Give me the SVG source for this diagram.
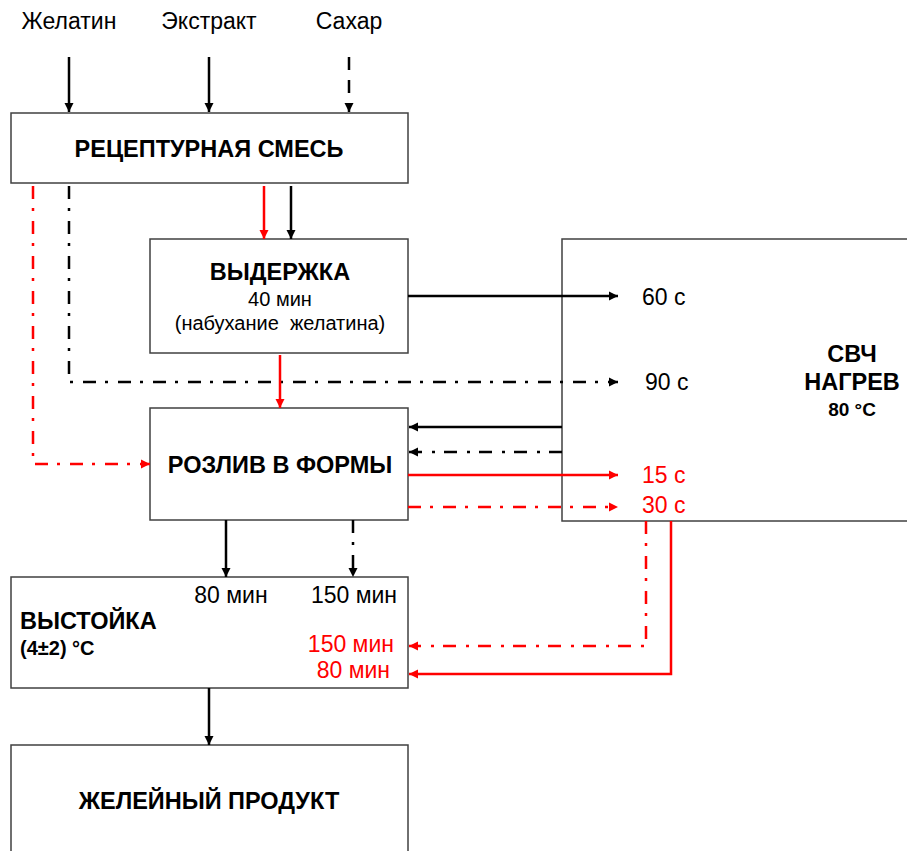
<svg xmlns="http://www.w3.org/2000/svg" width="907" height="851" viewBox="0 0 907 851">
<defs>
<style>
.box{fill:#fff;stroke:#404040;stroke-width:1.5}
.t{font-family:"Liberation Sans",Arial,sans-serif;fill:#000}
.b{font-weight:bold}
.r{fill:#ff0000}
.ln{fill:none;stroke:#000;stroke-width:2.5}
.red{stroke:#ff0000}
.dd{stroke-dasharray:13 9 3 10}
.da{stroke-dasharray:13 10}
</style>
<marker id="ab" markerUnits="userSpaceOnUse" markerWidth="10" markerHeight="10" refX="9" refY="5" orient="auto"><path d="M0,0.5 L9,5 L0,9.5 Z" fill="#000"/></marker>
<marker id="ar" markerUnits="userSpaceOnUse" markerWidth="10" markerHeight="10" refX="9" refY="5" orient="auto"><path d="M0,0.5 L9,5 L0,9.5 Z" fill="#ff0000"/></marker>
</defs>
<rect width="907" height="851" fill="#fff"/>

<g id="inputs">
<text class="t" x="69" y="29" font-size="23" text-anchor="middle">Желатин</text>
<text class="t" x="209" y="29" font-size="23" text-anchor="middle">Экстракт</text>
<text class="t" x="349" y="29" font-size="23" text-anchor="middle">Сахар</text>
</g>

<g id="recipe">
<rect class="box" x="11" y="113" width="397" height="70"/>
<text class="t b" x="209" y="157" font-size="23.5" text-anchor="middle">РЕЦЕПТУРНАЯ СМЕСЬ</text>
</g>

<g id="hold">
<rect class="box" x="150" y="239" width="258" height="114"/>
<text class="t b" x="280" y="280" font-size="23.5" text-anchor="middle">ВЫДЕРЖКА</text>
<text class="t" x="280" y="306" font-size="20" text-anchor="middle">40 мин</text>
<text class="t" x="280" y="330" font-size="20" text-anchor="middle" xml:space="preserve">(набухание  желатина)</text>
</g>

<g id="mw">
<rect class="box" x="562" y="239" width="360" height="282"/>
<text class="t b" x="852" y="362" font-size="23.5" text-anchor="middle">СВЧ</text>
<text class="t b" x="852" y="390" font-size="23.5" text-anchor="middle">НАГРЕВ</text>
<text class="t b" x="852" y="416" font-size="19" text-anchor="middle">80 °С</text>
<text class="t" x="642" y="305" font-size="23">60 с</text>
<text class="t" x="645" y="390" font-size="23">90 с</text>
<text class="t r" x="642" y="483" font-size="23">15 с</text>
<text class="t r" x="642" y="513" font-size="23">30 с</text>
</g>

<g id="pour">
<rect class="box" x="150" y="408" width="258" height="112"/>
<text class="t b" x="280" y="473" font-size="23.5" text-anchor="middle">РОЗЛИВ В ФОРМЫ</text>
</g>

<g id="stand">
<rect class="box" x="11" y="577" width="397" height="111"/>
<text class="t" x="231" y="603" font-size="23" text-anchor="middle">80 мин</text>
<text class="t" x="354" y="603" font-size="23" text-anchor="middle">150 мин</text>
<text class="t b" x="20" y="629" font-size="23.5">ВЫСТОЙКА</text>
<text class="t b" x="20" y="655" font-size="20">(4±2) °С</text>
<text class="t r" x="394" y="652" font-size="23" text-anchor="end">150 мин</text>
<text class="t r" x="390" y="678" font-size="23" text-anchor="end">80 мин</text>
</g>

<g id="product">
<rect class="box" x="11" y="745" width="397" height="120"/>
<text class="t b" x="209" y="809" font-size="23.5" text-anchor="middle">ЖЕЛЕЙНЫЙ ПРОДУКТ</text>
</g>

<g id="connectors">
<line class="ln" x1="69" y1="57" x2="69" y2="112" marker-end="url(#ab)"/>
<line class="ln" x1="209" y1="57" x2="209" y2="112" marker-end="url(#ab)"/>
<line class="ln da" x1="349" y1="57" x2="349" y2="112" marker-end="url(#ab)"/>

<line class="ln red" x1="264" y1="186" x2="264" y2="239" marker-end="url(#ar)"/>
<line class="ln" x1="291" y1="186" x2="291" y2="239" marker-end="url(#ab)"/>

<polyline class="ln dd" points="69,186 69,382 618,382" marker-end="url(#ab)"/>
<polyline class="ln red dd" points="33,186 33,464 150,464" marker-end="url(#ar)"/>

<line class="ln red" x1="280" y1="355" x2="280" y2="408" marker-end="url(#ar)"/>

<line class="ln" x1="408" y1="296" x2="618" y2="296" marker-end="url(#ab)"/>
<line class="ln" x1="562" y1="427" x2="409" y2="427" marker-end="url(#ab)"/>
<line class="ln dd" x1="562" y1="452" x2="409" y2="452" marker-end="url(#ab)"/>
<line class="ln red" x1="408" y1="475" x2="618" y2="475" marker-end="url(#ar)"/>
<line class="ln red dd" x1="408" y1="507" x2="618" y2="507" marker-end="url(#ar)"/>

<line class="ln" x1="226" y1="520" x2="226" y2="577" marker-end="url(#ab)"/>
<line class="ln dd" x1="353" y1="520" x2="353" y2="577" marker-end="url(#ab)"/>

<polyline class="ln red dd" points="646,521 646,646 409,646" marker-end="url(#ar)"/>
<polyline class="ln red" points="671,521 671,674 409,674" marker-end="url(#ar)"/>

<line class="ln" x1="209" y1="688" x2="209" y2="745" marker-end="url(#ab)"/>
</g>
</svg>
